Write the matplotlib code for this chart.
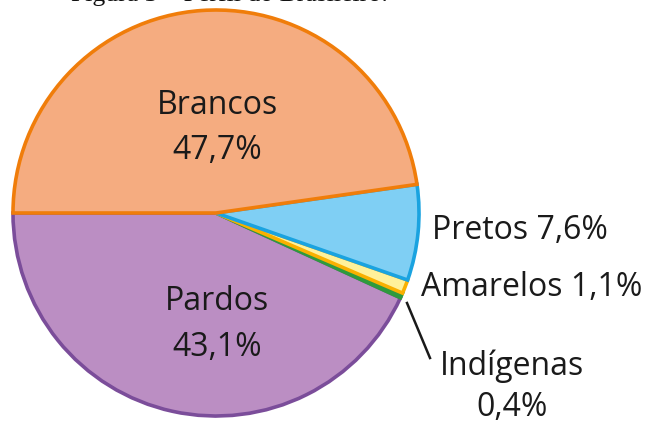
import matplotlib
matplotlib.use("Agg")
import matplotlib.pyplot as plt

categories = ["Brancos", "Pretos", "Amarelos", "Indígenas", "Pardos"]
values = [47.7, 7.6, 1.1, 0.4, 43.1]
value_labels = ["47,7%", "7,6%", "1,1%", "0,4%", "43,1%"]
fills = ["#F5AC80", "#7FCFF4", "#FFF19A", "#2E9A3E", "#BB8EC3"]
edges = ["#F07D0A", "#1AA3E0", "#F9B000", "#2E9A3E", "#7B4D9A"]
title = "Figura 3 – Perfil do Brasileiro:"

W, H = 649, 423
fig = plt.figure(figsize=(W / 100, H / 100), dpi=100)
ax = fig.add_axes([0, 0, 1, 1])

cx, cy, r = 216, H - 213, 203
wedges, _ = ax.pie(values, startangle=180, counterclock=False, colors=fills,
                   center=(cx, cy), radius=r, frame=True,
                   wedgeprops=dict(linewidth=2.6))
for i, w in enumerate(wedges):
    w.set_edgecolor(edges[i])
    w.set_zorder(10 - i)
ax.set_xlim(0, W)
ax.set_ylim(0, H)
ax.set_aspect("equal")
ax.axis("off")

font = "Open Sans"
fs = 23
tc = "#1a1a1a"
kw = dict(fontsize=fs, family=font, color=tc, zorder=20, va="center")
ax.text(217, H - 105, categories[0], ha="center", **kw)
ax.text(217, H - 150, value_labels[0], ha="center", **kw)
ax.text(217, H - 302, categories[4], ha="center", **kw)
ax.text(217, H - 347, value_labels[4], ha="center", **kw)
ax.text(432, H - 230, f"{categories[1]} {value_labels[1]}", ha="left", **kw)
ax.text(421, H - 287, f"{categories[2]} {value_labels[2]}", ha="left", **kw)
ax.text(512, H - 366, categories[3], ha="center", **kw)
ax.text(512, H - 408, value_labels[3], ha="center", **kw)
ax.plot([407, 430], [H - 303, H - 358], color="#1a1a1a", lw=1.8, zorder=20)

fig.text(230 / W, 1 - 1.5 / H, title, ha="center", va="baseline", fontsize=18.5,
         family="Liberation Serif", color="#111111")

fig.savefig("out.png", dpi=100)
